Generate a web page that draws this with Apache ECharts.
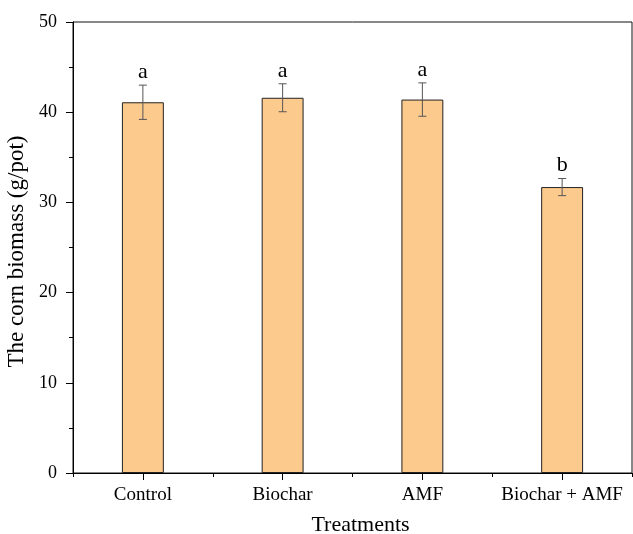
<!DOCTYPE html>
<html><head><meta charset="utf-8">
<script src="https://cdn.jsdelivr.net/npm/echarts@6/dist/echarts.min.js"></script>
<style>html,body{margin:0;padding:0;background:#fff}#c{width:633px;height:534px}</style>
</head><body><div id="c"></div>
<script>
const categories = ['Control', 'Biochar', 'AMF', 'Biochar + AMF'];
const biomass = [41.1, 41.6, 41.4, 31.7];
const errors = [1.9, 1.55, 1.85, 0.95];
const letters = ['a', 'a', 'a', 'b'];
const yMin = 0, yMax = 50, yStep = 10;

const FONT = 'Liberation Serif';
const chart = echarts.init(document.getElementById('c'), null, {renderer: 'canvas'});
const errData = categories.map((c, i) => [i, biomass[i] - errors[i], biomass[i] + errors[i]]);

chart.setOption({
  animation: false,
  backgroundColor: '#fff',
  grid: {left: 73, right: 1, top: 22, bottom: 61, containLabel: false, outerBoundsMode: 'none',
         show: true, borderColor: '#111', borderWidth: 1},
  xAxis: [{
    type: 'category', data: categories, boundaryGap: true, position: 'bottom',
    axisLine: {show: true, lineStyle: {color: '#000', width: 1}},
    axisTick: {show: true, length: 4, alignWithLabel: false, lineStyle: {color: '#000'}},
    axisLabel: {show: false}, splitLine: {show: false}
  }, {
    type: 'category', data: categories, boundaryGap: true, position: 'bottom', gridIndex: 0,
    axisLine: {show: false},
    axisTick: {show: true, length: 7, alignWithLabel: true, interval: 0, lineStyle: {color: '#000'}},
    axisLabel: {show: true, interval: 0, hideOverlap: false, margin: 13, fontFamily: FONT, fontSize: 19, color: '#000'},
    name: 'Treatments', nameLocation: 'middle', nameGap: 41,
    nameTextStyle: {fontFamily: FONT, fontSize: 22, color: '#000', padding: [0, 0, 0, 16]}
  }],
  yAxis: {
    type: 'value', min: yMin, max: yMax, interval: yStep,
    axisLine: {show: true, lineStyle: {color: '#000', width: 1}},
    axisTick: {show: true, length: 7, lineStyle: {color: '#000'}},
    minorTick: {show: true, splitNumber: 2, length: 4, lineStyle: {color: '#000'}},
    axisLabel: {margin: 16, fontFamily: FONT, fontSize: 18, color: '#000'},
    splitLine: {show: false},
    name: 'The corn biomass (g/pot)', nameLocation: 'middle', nameGap: 42,
    nameTextStyle: {fontFamily: FONT, fontSize: 23, color: '#000', padding: [0, 8, 0, 0]}
  },
  series: [{
    type: 'bar', data: biomass, barWidth: '30%', xAxisIndex: 0,
    itemStyle: {color: '#FDCA8E', borderColor: '#222', borderWidth: 1}
  }, {
    type: 'custom', data: errData, xAxisIndex: 0, z: 5,
    encode: {x: 0, y: [1, 2]},
    renderItem: function (params, api) {
      const x = api.value(0);
      const lo = api.coord([x, api.value(1)]);
      const hi = api.coord([x, api.value(2)]);
      const hw = 4;
      const st = {stroke: '#555', lineWidth: 1};
      return {type: 'group', children: [
        {type: 'line', shape: {x1: lo[0], y1: lo[1], x2: hi[0], y2: hi[1]}, style: st},
        {type: 'line', shape: {x1: lo[0] - hw, y1: lo[1], x2: lo[0] + hw, y2: lo[1]}, style: st},
        {type: 'line', shape: {x1: hi[0] - hw, y1: hi[1], x2: hi[0] + hw, y2: hi[1]}, style: st},
        {type: 'text', x: hi[0], y: hi[1] - 2, style: {text: letters[params.dataIndex], fontFamily: FONT, fontSize: 22, fill: '#000', align: 'center', verticalAlign: 'bottom'}}
      ]};
    }
  }]
});
</script></body></html>
